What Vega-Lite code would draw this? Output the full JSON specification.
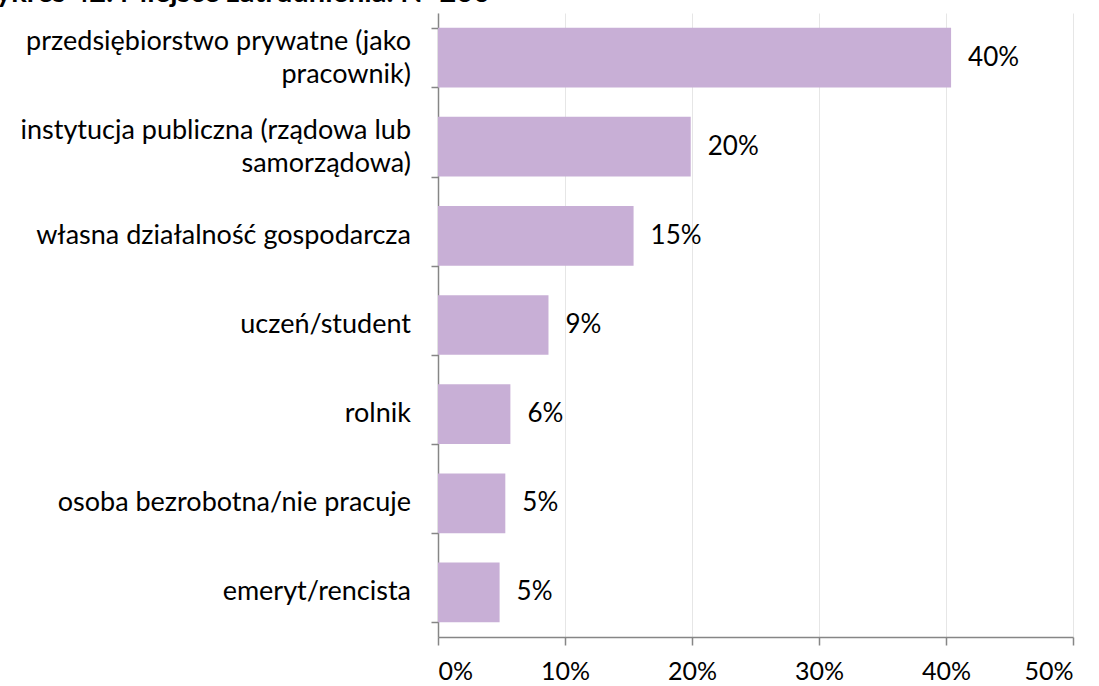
{
  "$schema": "https://vega.github.io/schema/vega-lite/v6.json",
  "autosize": {"type": "none"},
  "width": 635,
  "height": 624,
  "padding": {"left": 438, "top": 13, "right": 26, "bottom": 49},
  "background": "white",
  "title": {
    "text": "Wykres 42. Miejsce zatrudnienia. N=260",
    "anchor": "end",
    "frame": "group",
    "font": "Lato",
    "fontSize": 29,
    "fontWeight": "bold",
    "color": "#000000",
    "baseline": "alphabetic",
    "dx": -583,
    "offset": -18
  },
  "data": {
    "values": [
      {"kategoria": "przedsiębiorstwo prywatne (jako pracownik)", "etykieta": ["przedsiębiorstwo prywatne (jako", "pracownik)"], "udzial": 0.404},
      {"kategoria": "instytucja publiczna (rządowa lub samorządowa)", "etykieta": ["instytucja publiczna (rządowa lub", "samorządowa)"], "udzial": 0.199},
      {"kategoria": "własna działalność gospodarcza", "etykieta": ["własna działalność gospodarcza"], "udzial": 0.154},
      {"kategoria": "uczeń/student", "etykieta": ["uczeń/student"], "udzial": 0.087},
      {"kategoria": "rolnik", "etykieta": ["rolnik"], "udzial": 0.057},
      {"kategoria": "osoba bezrobotna/nie pracuje", "etykieta": ["osoba bezrobotna/nie pracuje"], "udzial": 0.053},
      {"kategoria": "emeryt/rencista", "etykieta": ["emeryt/rencista"], "udzial": 0.0485}
    ]
  },
  "encoding": {
    "y": {
      "field": "kategoria",
      "type": "nominal",
      "sort": null,
      "scale": {"paddingInner": 0.33, "paddingOuter": 0.165},
      "axis": {
        "title": null,
        "labels": false,
        "tickBand": "extent",
        "tickSize": 7,
        "tickColor": "#868686",
        "domainColor": "#868686",
        "domainWidth": 1.5,
        "tickWidth": 1.5
      }
    }
  },
  "layer": [
    {
      "mark": {"type": "bar", "color": "#c8afd6"},
      "encoding": {
        "x": {
          "field": "udzial",
          "type": "quantitative",
          "scale": {"domain": [0, 0.5], "nice": false},
          "axis": {
            "title": null,
            "format": ".0%",
            "values": [0, 0.1, 0.2, 0.3, 0.4, 0.5],
            "labelFont": "Lato",
            "labelFontSize": 25,
            "labelColor": "#000000",
            "labelPadding": 14,
            "tickSize": 8,
            "tickColor": "#868686",
            "domainColor": "#868686",
            "domainWidth": 1.5,
            "tickWidth": 1.5,
            "grid": true,
            "gridColor": "#e6e6e6",
            "gridWidth": 1
          }
        }
      }
    },
    {
      "mark": {"type": "text", "align": "left", "dx": 17, "font": "Lato", "fontSize": 26, "color": "#000000"},
      "encoding": {
        "x": {"field": "udzial", "type": "quantitative"},
        "text": {"field": "udzial", "type": "quantitative", "format": ".0%"}
      }
    },
    {
      "mark": {
        "type": "text",
        "align": "right",
        "baseline": "middle",
        "dx": -27,
        "dy": {"expr": "length(datum.etykieta) > 1 ? -16 : 0"},
        "lineHeight": 33,
        "font": "Lato",
        "fontSize": 27,
        "color": "#000000"
      },
      "encoding": {
        "x": {"datum": 0, "type": "quantitative"},
        "text": {"field": "etykieta"}
      }
    }
  ],
  "config": {"view": {"stroke": null}}
}
